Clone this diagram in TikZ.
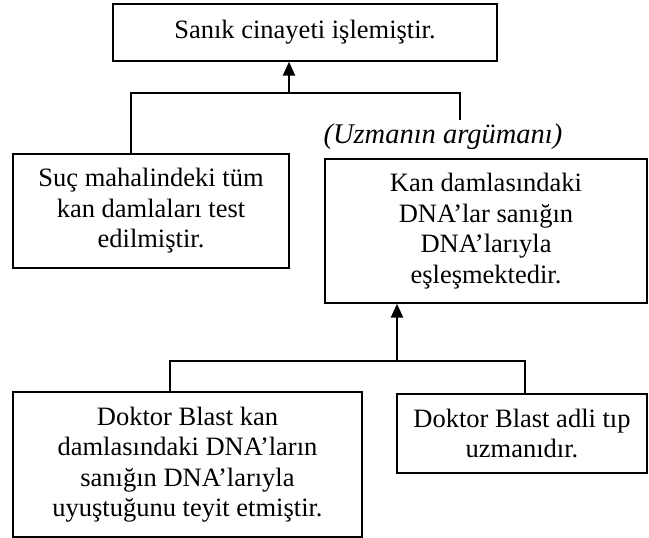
\documentclass[tikz,border=0pt]{standalone}
\usepackage{fontspec}
\setmainfont{Liberation Serif}
\usetikzlibrary{arrows.meta}

\begin{document}
\begin{tikzpicture}[x=1pt,y=-1pt,
    link/.style={line width=1.3pt},
    support/.style={line width=2.4pt,-{Triangle[length=14pt,width=12pt]}}]

        \useasboundingbox (0,0) rectangle (649,538);

        \begin{scope}[every node/.style={draw,line width=1.4pt,align=center,inner sep=0pt,
            font=\fontsize{26.5}{30.5}\selectfont}]
          \node[minimum width=384pt,minimum height=57pt]  (sanik)  at (305,32.5)  {Sanık cinayeti işlemiştir.};
          \node[minimum width=276pt,minimum height=114pt] (suc)    at (151,211)   {Suç mahalindeki tüm\\kan damlaları test\\edilmiştir.};
          \node[minimum width=322pt,minimum height=144pt] (kan)    at (486,231) {Kan damlasındaki\\DNA’lar sanığın\\DNA’larıyla\\eşleşmektedir.};
          \node[minimum width=349pt,minimum height=145pt] (doktor) at (187.5,464.5) {Doktor Blast kan\\damlasındaki DNA’ların\\sanığın DNA’larıyla\\uyuştuğunu teyit etmiştir.};
          \node[minimum width=250pt,minimum height=79pt]  (uzman)  at (522,433.5) {Doktor Blast adli tıp\\uzmanıdır.};
        \end{scope}

        \node[font=\fontsize{28.5}{32}\selectfont\itshape] (etiket) at (443,137) {(Uzmanın argümanı)};

        \coordinate (jtop) at (289,93);
        \coordinate (jbot) at (397,361);
        \coordinate (uend) at (460,120);

        \draw[link] ([xshift=-20pt]suc.north) |- (jtop) -| (uend);
        \draw[support] (jtop) -- (jtop |- sanik.south);

        \draw[link] ([xshift=-17.5pt]doktor.north) |- (jbot) -| ([xshift=3pt]uzman.north);
        \draw[support] (jbot) -- (jbot |- kan.south);

      \end{tikzpicture}
\end{document}
